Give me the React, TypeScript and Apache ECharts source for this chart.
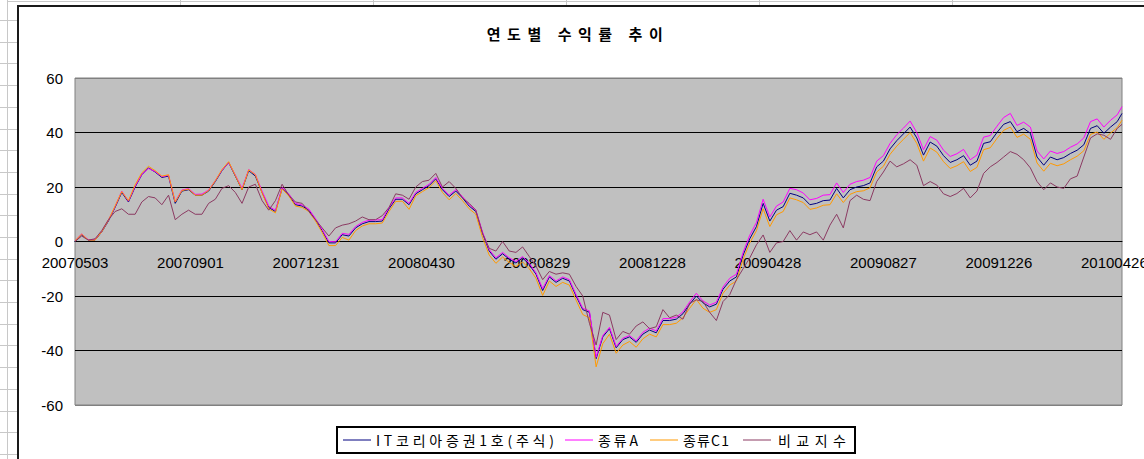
import React, { useEffect, useRef } from 'react';
import * as echarts from 'echarts';

const chartTitle = '연도별 수익률 추이';
const seriesNames = ['IT코리아증권1호(주식)', '종류A', '종류C1', '비교지수'];
const seriesColors = ['#000080', '#ff00ff', '#ff9900', '#8b3a62'];

// x positions: days since 2007-05-03, weekly samples plus the final day
const weekCount = 157;
const lastDay = 1097;
const labelStepDays = 121;
const dayOffsets: number[] = [];
for (let i = 0; i < weekCount; i++) dayOffsets.push(i * 7);
dayOffsets.push(lastDay);

const itKorea = [
  0, 2.5, 0.5, 0.5, 3.5, 7.5, 12.5, 18, 14.5, 20,
  24.5, 27, 25.5, 23.5, 24, 14, 18.5, 19, 17, 17,
  18.5, 22, 26, 29, 24, 19, 26, 24, 18, 12.5,
  11, 19.5, 17, 13.5, 13, 11.5, 8, 4, -0.5, -0.5,
  2.5, 2, 5, 6.5, 7.3, 7.3, 7.5, 12, 15.5, 15.5,
  13.5, 17.5, 19, 20.5, 23, 19, 16.5, 18.5, 16, 13,
  11, 3, -3.5, -6.5, -4.5, -6.5, -7.9, -6, -8.5, -12,
  -18, -13, -15, -13.5, -14.5, -20, -25, -26, -43, -35,
  -32, -39, -36, -35, -37, -34, -32.5, -33.5, -29, -29,
  -28.5, -26.5, -23, -20, -22.5, -24, -23, -17.5, -14.5, -13,
  -5, 1, 5.5, 14, 7.5, 11.5, 12.8, 17.7, 17, 16,
  13.5, 14, 15, 15.2, 19.5, 16, 19, 20, 20.5, 21.5,
  27.4, 29.5, 34, 37, 39.5, 42, 38, 31.7, 36.5, 35,
  31.5, 29, 30, 31.5, 28, 29.5, 36, 36.6, 40, 43,
  44, 40.3, 41.5, 39.7, 31, 28, 31, 30, 30.8, 32.3,
  33.5, 35.5, 41.5, 42.5, 39.7, 42, 44,
  47,
];

const classA = [
  0.2, 2.8, 0.6, 0.7, 3.7, 7.8, 12.8, 18.5, 14.8, 20.3,
  24.6, 26.8, 25.7, 23.8, 24.3, 14.6, 18.9, 19.4, 17.3, 17.4,
  18.9, 22.3, 26.2, 29, 24.4, 19.5, 26.4, 24.6, 18.5, 13,
  11.4, 19.8, 17.5, 14, 13.4, 11.9, 8.4, 4.4, 0, -0.1,
  3, 2.6, 5.5, 7, 7.8, 7.9, 8, 12.5, 16, 16,
  14, 18, 19.5, 21, 23.5, 19.5, 17, 19, 16.5, 13.5,
  11.5, 3.5, -3, -6, -4, -6, -7.4, -5.5, -8, -11.5,
  -17.3, -12.5, -14.5, -13, -14, -19.5, -24.5, -25.5, -42.5, -34.5,
  -31.5, -38.5, -35.5, -34.5, -36.5, -33.3, -31.8, -32.8, -28.3, -28.3,
  -27.8, -25.8, -22.2, -19, -21.8, -23.3, -22.3, -16.7, -13.5, -12,
  -4, 2.3, 7, 15.5, 9, 13, 14.5, 19.5, 19, 17.8,
  15.3, 15.8, 17, 17.2, 21.5, 18, 21, 22, 22.5, 23.5,
  29.5, 31.5, 36, 39.2, 41.6, 44.2, 40, 33.7, 38.5, 37.2,
  33.5, 31.2, 32.2, 33.8, 30, 31.7, 38.3, 38.9, 42.3, 45.5,
  47, 42.6, 43.8, 42, 33.2, 30.3, 33.2, 32.3, 33, 34.6,
  35.8, 38, 44, 45, 42, 44.5, 46.5,
  49.5,
];

const classC1 = [
  0.3, 2.7, 0.5, 0.5, 3.6, 7.8, 13, 18.3, 15, 20.8,
  25.2, 27.6, 26, 24, 24.5, 14.5, 18.7, 19.2, 17, 17,
  18.7, 22.3, 26.4, 29.3, 24.2, 19, 26.3, 24.5, 17.8, 12,
  10.5, 19.3, 16.7, 13, 12.5, 11, 7.5, 3.3, -1.5, -1.5,
  1.5, 0.5, 4, 5.7, 6.5, 6.5, 6.8, 11, 14.7, 14.8,
  11.8, 16.8, 18.3, 19.8, 22.3, 18, 15.3, 17.6, 15, 12,
  10, 1.5, -5, -8, -5.7, -7.7, -9.2, -7.5, -10, -13.5,
  -19.8, -14.5, -16.5, -15, -16, -21.5, -26.8, -28, -46, -37.5,
  -34, -41, -38, -36.7, -38.8, -35.7, -34, -35, -30.5, -30.5,
  -30, -28, -24.5, -21.3, -24.5, -26, -25, -19, -16, -14.5,
  -6.5, -0.5, 4, 12, 5.5, 9.8, 11, 16, 15.3, 14.3,
  11.8, 12.3, 13.3, 13.5, 17.5, 14.3, 17.3, 18.3, 18.6, 19.7,
  25.5, 27.6, 32, 35, 37.5, 40, 36, 29.5, 34.3, 32.8,
  29.3, 26.8, 27.8, 29.3, 25.7, 27.2, 33.7, 34.4, 37.8, 40.8,
  42, 38.2, 39.4, 37.5, 28.8, 25.8, 28.7, 27.8, 28.5, 30,
  31.3, 33.3, 39.3, 40.2, 37.5, 39.8, 41.8,
  44.5,
];

const benchmark = [
  0, 2, 0.5, 1, 4, 8, 11, 12, 10, 10,
  14.5, 16.5, 16, 13.5, 17, 8, 10, 11.5, 10, 10,
  14, 15.5, 19.5, 20.5, 18, 14, 20, 21, 15, 11.5,
  15, 21, 17, 14.5, 14, 11, 8, 5, 2, 5,
  6, 6.5, 7.5, 9, 8, 8, 9.5, 12.5, 17.5, 17,
  15.5, 20, 22, 22.5, 25, 20, 22, 19.5, 16, 14,
  11.5, 3, -2.5, -3.5, 0, -3.5, -4, -2, -5.5, -9,
  -14, -11, -12, -11.5, -12, -16.5, -20, -30, -38, -26,
  -27, -36, -33, -34, -31, -29.5, -32, -31.3, -25, -28,
  -27, -28.5, -22.7, -21.4, -22, -26, -29, -22, -19.5, -14,
  -10, -6, -1.2, 2.4, -4, -0.5, 0, 4, 0.5, 3.5,
  2.5, 3.5, 0.5, 6, 10, 5, 15, 17, 15.5, 15,
  22, 25.5, 29.5, 27.4, 28.5, 30, 28, 20.5, 22, 20.7,
  17.5, 16.5, 17.6, 19.5, 16, 18.5, 25, 27.4, 29, 31,
  33, 32, 30, 27, 22, 19, 21.5, 20, 19.5, 23,
  24, 31, 38, 39.5, 39, 37.5, 41.5,
  43,
];

const seriesValues = [itKorea, classA, classC1, benchmark];

// legend layout: sample line start x, text start x, and visible text width per entry
const legendBox = { x: 337, y: 427, width: 518, height: 26 };
const legendLineX = [343, 565, 650, 743];
const legendLineWidth = 28;
const legendTextX = [376, 598, 683, 778];
const legendTextWidths = [178, 40, 46, 68];

const spacedTextWidths: Record<string, number> = { [chartTitle]: 176 };
seriesNames.forEach((n, i) => { spacedTextWidths[n] = legendTextWidths[i]; });

function dayLabel(d: number): string {
  const dt = new Date(Date.UTC(2007, 4, 3) + d * 86400000);
  const p = (n: number) => (n < 10 ? '0' + n : '' + n);
  return `${dt.getUTCFullYear()}${p(dt.getUTCMonth() + 1)}${p(dt.getUTCDate())}`;
}

export default function App() {
  const ref = useRef<HTMLDivElement>(null);
  useEffect(() => {
    if (!ref.current) return;
    const chart = echarts.init(ref.current, undefined, { renderer: 'svg' });

    const sheetLines: any[] = [];
    sheetLines.push({ type: 'line', shape: { x1: 7.5, y1: 0, x2: 7.5, y2: 459 }, style: { stroke: '#c8c8c8', lineWidth: 1 } });
    for (let y = 20; y < 459; y += 21.7) {
      sheetLines.push({ type: 'line', shape: { x1: 0, y1: Math.round(y) + 0.5, x2: 17, y2: Math.round(y) + 0.5 }, style: { stroke: '#c8c8c8', lineWidth: 1 } });
    }
    sheetLines.push({ type: 'line', shape: { x1: 7, y1: 1.5, x2: 1160, y2: 1.5 }, style: { stroke: '#c8c8c8', lineWidth: 1 } });
    [180, 373, 566, 759, 952].forEach((x) => {
      sheetLines.push({ type: 'line', shape: { x1: x + 0.5, y1: 0, x2: x + 0.5, y2: 5 }, style: { stroke: '#c8c8c8', lineWidth: 1 } });
    });

    const legendCy = legendBox.y + legendBox.height / 2;
    const legendEls: any[] = [
      {
        type: 'rect',
        shape: { ...legendBox },
        style: { fill: '#ffffff', stroke: '#000', lineWidth: 2 },
        z: 50,
      },
    ];
    seriesNames.forEach((name, i) => {
      legendEls.push({
        type: 'line',
        shape: { x1: legendLineX[i], y1: legendCy, x2: legendLineX[i] + legendLineWidth, y2: legendCy },
        style: { stroke: seriesColors[i], lineWidth: 1 },
        z: 51,
      });
      legendEls.push({
        type: 'text',
        x: legendTextX[i],
        y: legendCy,
        z: 51,
        style: {
          text: name,
          textAlign: 'left',
          textVerticalAlign: 'middle',
          font: '14px "Noto Sans CJK KR"',
          fill: '#000',
        },
      });
    });

    chart.setOption({
      animation: false,
      backgroundColor: '#ffffff',
      graphic: [
        ...sheetLines,
        {
          type: 'rect',
          shape: { x: 18, y: 6, width: 1160, height: 470 },
          style: { fill: 'none', stroke: '#1a1a1a', lineWidth: 2 },
          z: 100,
        },
        {
          type: 'text',
          x: 578,
          y: 33,
          style: {
            text: chartTitle,
            textAlign: 'center',
            textVerticalAlign: 'middle',
            font: 'bold 15px "Noto Sans CJK KR"',
            fill: '#000',
          },
        },
        ...legendEls,
      ],
      grid: {
        left: 75,
        top: 78,
        width: 1047,
        height: 327,
        show: true,
        backgroundColor: '#c0c0c0',
        borderColor: '#808080',
        borderWidth: 1,
        containLabel: false,
      },
      xAxis: {
        type: 'value',
        min: 0,
        max: lastDay,
        interval: labelStepDays,
        offset: -163.5,
        axisLine: { show: true, onZero: false, lineStyle: { color: '#000', width: 1 } },
        axisTick: { show: false },
        splitLine: { show: false },
        axisLabel: {
          margin: 13,
          fontSize: 15,
          fontFamily: '"Liberation Sans"',
          color: '#000',
          showMaxLabel: false,
          formatter: (v: number) => (v % labelStepDays === 0 ? dayLabel(v) : ''),
        },
      },
      yAxis: {
        type: 'value',
        min: -60,
        max: 60,
        interval: 20,
        axisLine: { show: false, onZero: false },
        axisTick: { show: false },
        splitLine: {
          show: true,
          lineStyle: { color: ['#808080', '#000', '#000', '#000', '#000', '#000', '#808080'], width: 1 },
        },
        axisLabel: {
          margin: 12,
          fontSize: 15,
          fontFamily: '"Liberation Sans"',
          color: '#000',
        },
      },
      series: seriesNames.map((name, si) => ({
        name,
        type: 'line',
        data: dayOffsets.map((d, i) => [d, seriesValues[si][i]]),
        showSymbol: false,
        symbol: 'none',
        lineStyle: { width: 1, color: seriesColors[si] },
        itemStyle: { color: seriesColors[si] },
      })),
    });

    const applySpacing = () => {
      const root = ref.current;
      if (!root) return;
      root.querySelectorAll('text').forEach((el: any) => {
        const t = (el.textContent || '').trim();
        const target = spacedTextWidths[t];
        if (target == null || typeof el.getComputedTextLength !== 'function') return;
        el.setAttribute('letter-spacing', '0');
        const natural = el.getComputedTextLength();
        const n = Array.from(t).length;
        const s = Math.max(0, (target - natural) / Math.max(1, n - 1));
        el.setAttribute('letter-spacing', s.toFixed(2));
      });
    };
    applySpacing();
    chart.on('finished', applySpacing);

    return () => chart.dispose();
  }, []);

  return (
    <div style={{ position: 'fixed', left: 0, top: 0, width: 1144, height: 459, overflow: 'hidden', background: '#fff' }}>
      <div ref={ref} style={{ width: 1160, height: 459 }} />
    </div>
  );
}
